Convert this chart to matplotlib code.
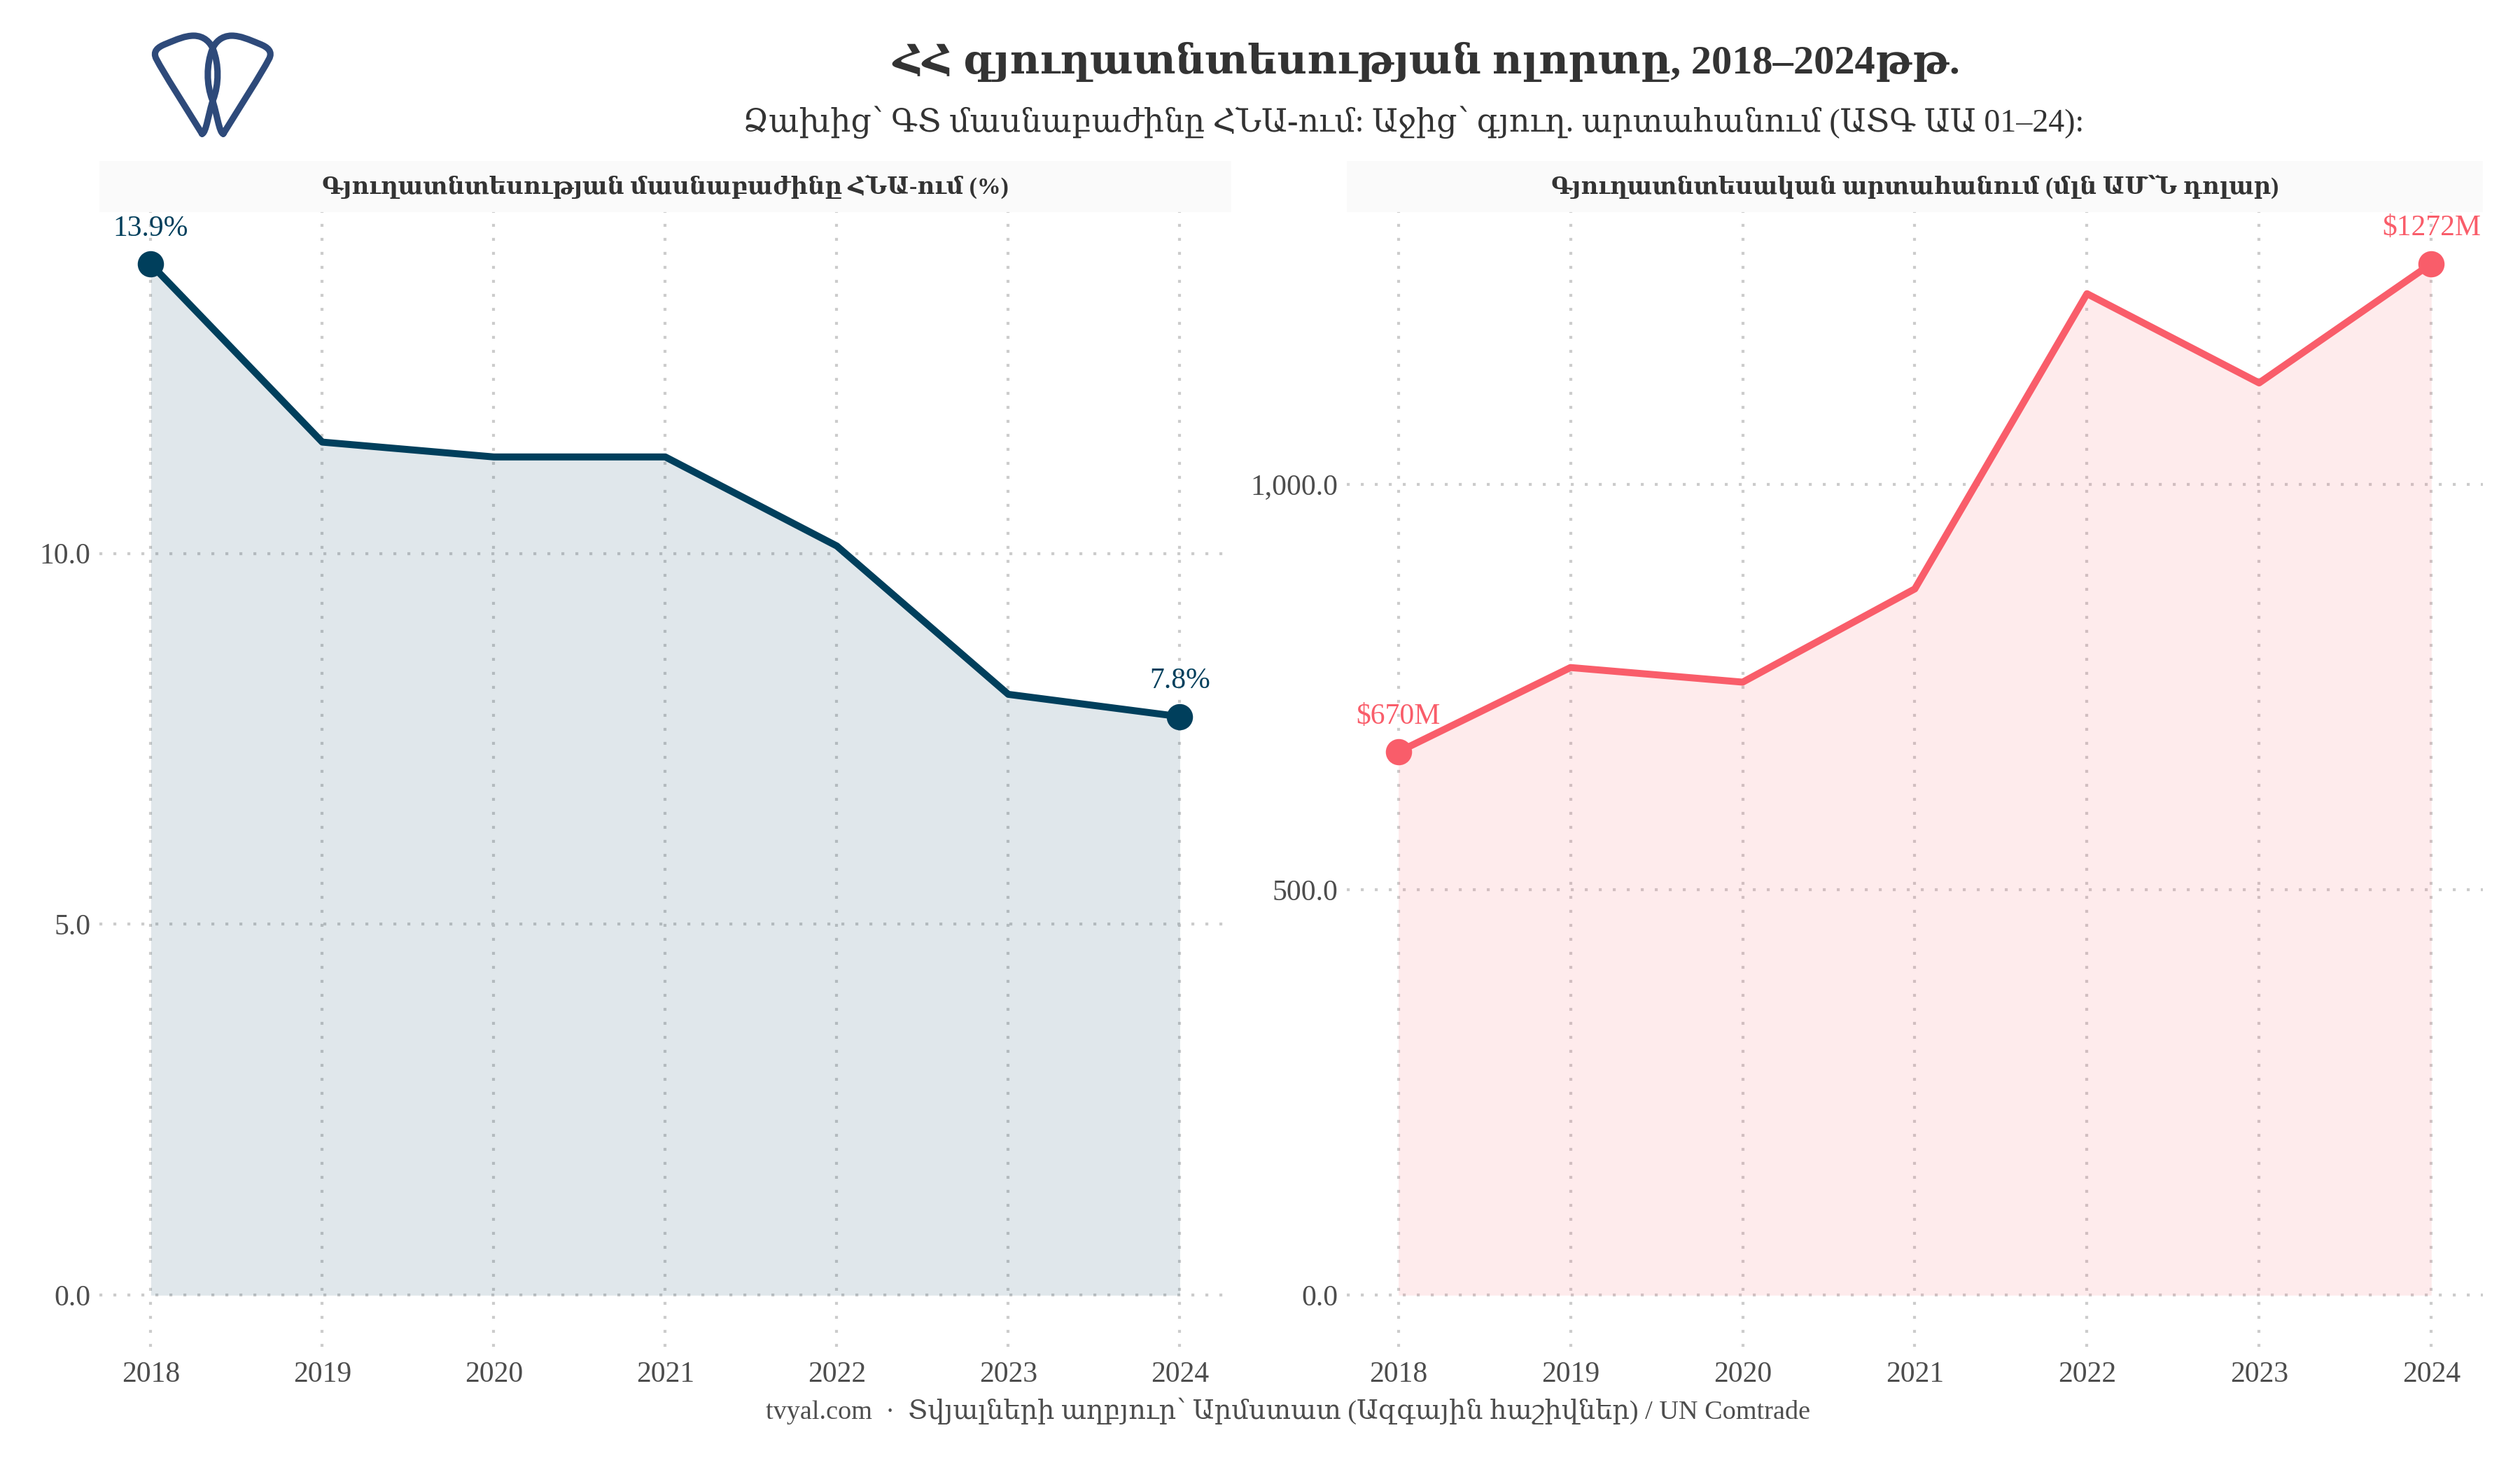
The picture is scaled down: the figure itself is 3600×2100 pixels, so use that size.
import matplotlib
matplotlib.use("Agg")
import matplotlib.pyplot as plt
from matplotlib.path import Path
from matplotlib.patches import PathPatch
from matplotlib.ticker import FuncFormatter

plt.rcParams['font.family'] = ['Liberation Serif', 'DejaVu Serif']

# Տվյալներ
years = [2018, 2019, 2020, 2021, 2022, 2023, 2024]
agri_share_gdp = [13.9, 11.5, 11.3, 11.3, 10.1, 8.1, 7.8]
agri_exports = [670, 774, 756, 871, 1235, 1125, 1272]

title = "ՀՀ գյուղատնտեսության ոլորտը, 2018–2024թթ."
subtitle = "Ձախից՝ ԳՏ մասնաբաժինը ՀՆԱ-ում: Աջից՝ գյուղ. արտահանում (ԱՏԳ ԱԱ 01–24):"
strip_left = "Գյուղատնտեսության մասնաբաժինը ՀՆԱ-ում (%)"
strip_right = "Գյուղատնտեսական արտահանում (մլն ԱՄ՝Ն դոլար)"
caption = "tvyal.com  ·  Տվյալների աղբյուր՝ Արմստատ (Ազգային հաշիվներ) / UN Comtrade"

col_left = '#003f5c'
col_right = '#f95d6a'
grid_col = '#cccccc'
text_col = '#4d4d4d'

fig = plt.figure(figsize=(12, 7), dpi=300)
fig.patch.set_facecolor('white')

ax1 = fig.add_axes([0.0394, 0.0838, 0.4492, 0.7719])
ax2 = fig.add_axes([0.5344, 0.0838, 0.4509, 0.7719])


def style_panel(ax, strip_text):
    for s in ax.spines.values():
        s.set_visible(False)
    ax.set_axisbelow(True)
    ax.grid(True, color=grid_col, linewidth=1.0, dashes=(1, 3.8))
    ax.tick_params(length=0, labelsize=10, colors=text_col, pad=3)
    ax.tick_params(axis='x', pad=5)
    ax.set_xticks(years)
    ax.set_xlim(2017.7, 2024.3)
    # strip
    pos = ax.get_position()
    fig.patches.append(plt.Rectangle((pos.x0, pos.y1), pos.width, 0.0348,
                                     transform=fig.transFigure, facecolor='#fafafa',
                                     edgecolor='none', zorder=0))
    fig.text(pos.x0 + pos.width / 2, pos.y1 + 0.0174, strip_text, ha='center', va='center',
             fontsize=8.1, fontweight='bold', color='#333333')


def draw_series(ax, ys, color, labels):
    ax.fill_between(years, 0, ys, color=color, alpha=0.12, linewidth=0, zorder=2)
    ax.plot(years, ys, color=color, linewidth=2.4, solid_joinstyle='round', zorder=3)
    ax.plot([years[0], years[-1]], [ys[0], ys[-1]], 'o', color=color, markersize=8, zorder=4)
    for x, y, lab in [(years[0], ys[0], labels[0]), (years[-1], ys[-1], labels[1])]:
        ax.annotate(lab, (x, y), xytext=(0, 7.5), textcoords='offset points',
                    ha='center', va='bottom', fontsize=10, color=color)


style_panel(ax1, strip_left)
draw_series(ax1, agri_share_gdp, col_left,
            [f"{agri_share_gdp[0]:.1f}%", f"{agri_share_gdp[-1]:.1f}%"])
ax1.set_ylim(-0.695, 14.6)
ax1.set_yticks([0, 5, 10])
ax1.yaxis.set_major_formatter(FuncFormatter(lambda v, p: f"{v:.1f}"))

style_panel(ax2, strip_right)
draw_series(ax2, agri_exports, col_right,
            [f"${agri_exports[0]}M", f"${agri_exports[-1]}M"])
ax2.set_ylim(-63.6, 1335.6)
ax2.set_yticks([0, 500, 1000])
ax2.yaxis.set_major_formatter(FuncFormatter(lambda v, p: f"{v:,.1f}"))

# վերնագրեր
fig.text(0.566, 0.958, title, ha='center', va='center', fontsize=14,
         fontweight='bold', color='#333333')
fig.text(0.561, 0.917, subtitle, ha='center', va='center', fontsize=11, color='#333333')
fig.text(0.511, 0.040, caption, ha='center', va='center', fontsize=9.2, color=text_col)

# լոգո
logo = fig.add_axes([0.0583, 0.906, 0.0522, 0.0724])
logo.set_xlim(150, 770)
logo.set_ylim(545, 60)
logo.axis('off')
left_loop = [
    (410, 525), (330, 400), (230, 250), (195, 185),
    (175, 150), (200, 130), (240, 115),
    (290, 95), (330, 78), (370, 78),
    (420, 78), (450, 110), (462, 140),
    (490, 210), (490, 300), (462, 370),
    (440, 430), (430, 520), (410, 525),
]
codes = [Path.MOVETO] + [Path.CURVE4] * 18
for pts in [left_loop, [(920 - x, y) for x, y in left_loop]]:
    logo.add_patch(PathPatch(Path(pts, codes), facecolor='none', edgecolor='#2e4a7a',
                             linewidth=2.2, capstyle='round', joinstyle='round'))

fig.savefig('out.png', dpi=300)
